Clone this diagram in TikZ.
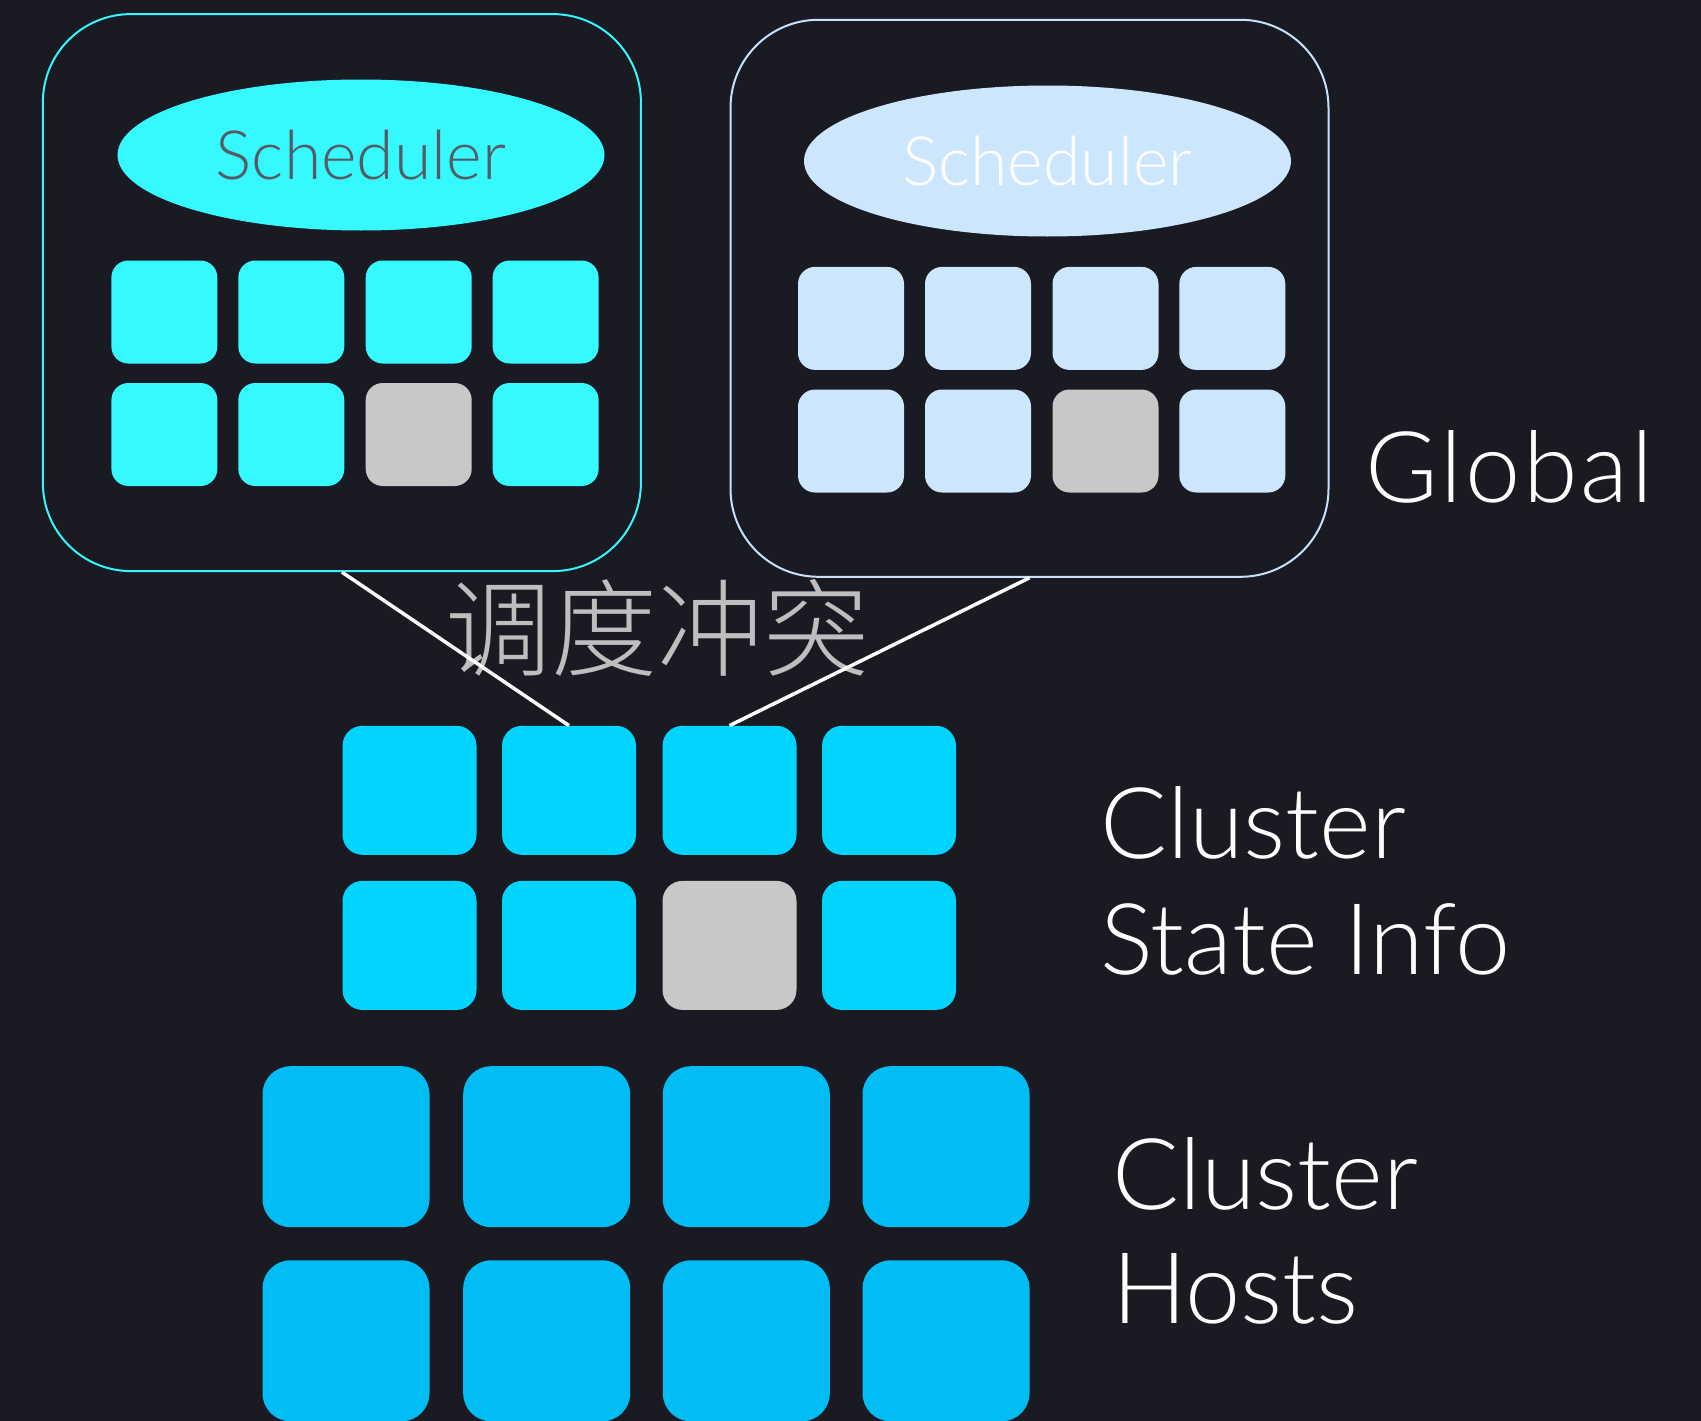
\documentclass[tikz,border=0pt]{standalone}
\usepackage{fontspec}
\usetikzlibrary{shapes.geometric}
\IfFontExistsTF{Lato Light}{\setmainfont{Lato Light}}{\setmainfont{Liberation Sans}}
\IfFontExistsTF{Noto Sans CJK SC Light}{\newfontfamily\cjkfont{Noto Sans CJK SC Light}}{\newfontfamily\cjkfont{Noto Sans CJK SC}}

\definecolor{bgdark}{HTML}{1A1A23}
\definecolor{cyanfill}{HTML}{36F9FF}
\definecolor{cyanedge}{HTML}{36F5FF}
\definecolor{palefill}{HTML}{CBE6FD}
\definecolor{paleedge}{HTML}{C6E2FB}
\definecolor{busygray}{HTML}{C8C8C8}
\definecolor{statefill}{HTML}{00D4FF}
\definecolor{hostfill}{HTML}{02BDF3}
\definecolor{schedgray}{HTML}{555B62}
\definecolor{cjkgray}{HTML}{BEBEBE}

\begin{document}
\begin{tikzpicture}[x=1pt,y=-1pt,
  frame/.style={rectangle, rounded corners=88pt, minimum width=598pt,
    minimum height=557pt, line width=2pt, inner sep=0pt},
  sched/.style={ellipse, minimum width=487pt, minimum height=151pt,
    inner sep=0pt, font=\fontsize{68}{74}\selectfont},
  topcell/.style={rectangle, rounded corners=17pt, minimum width=106pt,
    minimum height=103pt, inner sep=0pt},
  midcell/.style={rectangle, rounded corners=20pt, minimum width=134pt,
    minimum height=129pt, inner sep=0pt, fill=statefill},
  hostcell/.style={rectangle, rounded corners=28pt, minimum width=167pt,
    minimum height=161pt, inner sep=0pt, fill=hostfill},
  lbl/.style={anchor=base west, inner sep=0pt, text=white,
    font=\fontsize{99}{110}\selectfont},
  conn/.style={draw=white, line width=3.5pt}]

\useasboundingbox (0,0) rectangle (1701,1421);
\fill[bgdark] (0,0) rectangle (1701,1421);

% two scheduler frames
\node[frame, draw=cyanedge] (lbox) at (341.9,292.6) {};
\node[frame, draw=paleedge] (rbox) at (1029.5,298.3) {};

\node[sched, fill=cyanfill, text=schedgray] (lsched) at (361,155) {Scheduler};
\node[sched, fill=palefill, text=white] (rsched) at (1047.5,161) {Scheduler};

% resource cells seen by the left scheduler
\foreach \x [count=\i] in {164.4,291.3,418.7,545.6}
  \node[topcell, fill=cyanfill] (l1\i) at (\x,312) {};
\foreach \x/\c [count=\i] in {164.4/cyanfill,291.3/cyanfill,418.7/busygray,545.6/cyanfill}
  \node[topcell, fill=\c] (l2\i) at (\x,434.5) {};

% resource cells seen by the right scheduler
\foreach \x [count=\i] in {851,978,1105.5,1232.3}
  \node[topcell, fill=palefill] (r1\i) at (\x,318.4) {};
\foreach \x/\c [count=\i] in {851/palefill,978/palefill,1105.5/busygray,1232.3/palefill}
  \node[topcell, fill=\c] (r2\i) at (\x,441) {};

% shared cluster state
\foreach \x [count=\i] in {409.5,569,729.5,889}
  \node[midcell] (m1\i) at (\x,790.3) {};
\foreach \x/\c [count=\i] in {409.5/statefill,569/statefill,729.5/busygray,889/statefill}
  \node[midcell, fill=\c] (m2\i) at (\x,945.4) {};

% cluster hosts
\foreach \x [count=\i] in {346,546.7,746.3,946}
  \node[hostcell] (h1\i) at (\x,1146.7) {};
\foreach \x [count=\i] in {346,546.7,746.3,946}
  \node[hostcell] (h2\i) at (\x,1340.8) {};

% labels
\node[lbl] (global) at (1365,502) {\addfontfeature{LetterSpace=3}Global};
\node[lbl] (stateA) at (1100,858) {Cluster};
\node[lbl] (stateB) at (1100,974) {State Info};
\node[lbl] (hostA) at (1112,1209.5) {Cluster};
\node[lbl] (hostB) at (1112,1323.5) {Hosts};

\node[font=\cjkfont\fontsize{106}{120}\selectfont, text=cjkgray, inner sep=0pt]
  (conflict) at (657.5,627.5) {调度冲突};

% conflicting claims on the shared state
\draw[conn] (lbox.south) -- (m12.north);
\draw[conn] (rbox.south) -- (m13.north);
\end{tikzpicture}
\end{document}
